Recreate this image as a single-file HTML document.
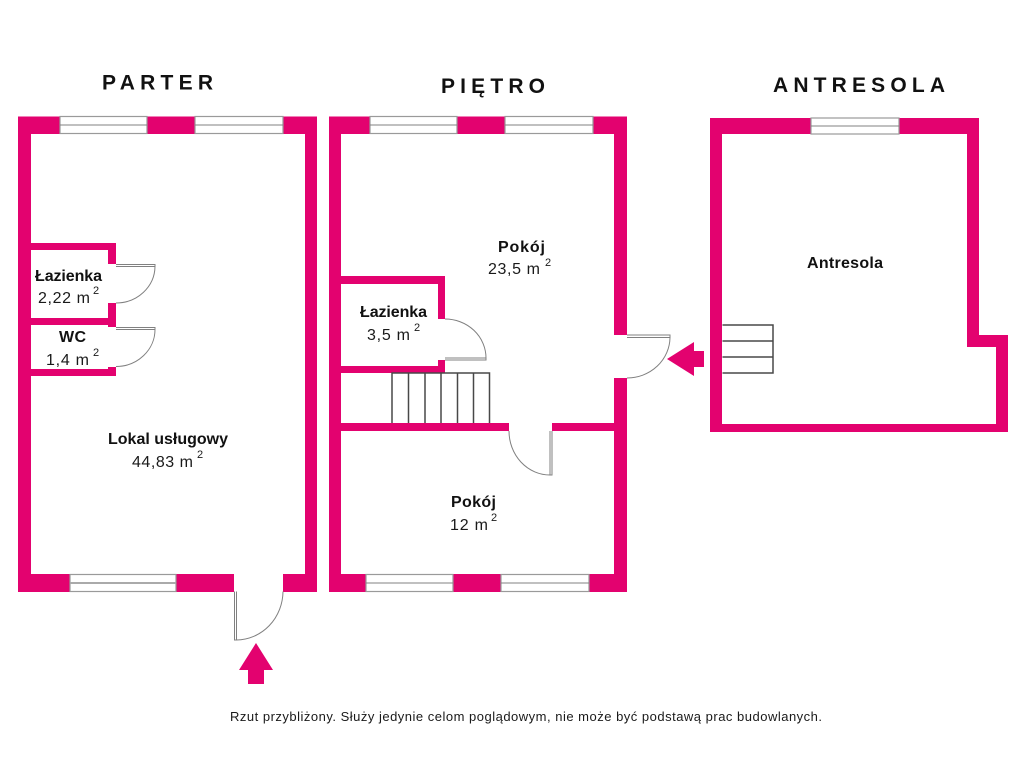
<!DOCTYPE html>
<html lang="pl">
<head>
<meta charset="utf-8">
<title>Rzut</title>
<style>
html,body{margin:0;padding:0;background:#fff;width:1024px;height:768px;overflow:hidden}
svg{display:block}
text{font-family:"Liberation Sans",sans-serif;fill:#1a1a1a}
.h{font-size:21px;font-weight:bold;fill:#111}
.b{font-size:16px;font-weight:bold;fill:#111}
.n{font-size:16px}
.s{font-size:11px}
.w{fill:#e3026f}
.win{fill:#fff;stroke:#9a9a9a;stroke-width:1.2}
.l{fill:none;stroke:#808080;stroke-width:1}
.st{fill:none;stroke:#484848;stroke-width:1.5}
</style>
</head>
<body>
<svg width="1024" height="768" viewBox="0 0 1024 768" xmlns="http://www.w3.org/2000/svg">
<rect width="1024" height="768" fill="#fff"/>

<!-- Titles -->
<text class="h" x="102" y="89.500" textLength="111">PARTER</text>
<text class="h" x="441" y="93" textLength="104">PIĘTRO</text>
<text class="h" x="773" y="92" textLength="172">ANTRESOLA</text>

<!-- PARTER walls -->
<path class="w" fill-rule="evenodd" d="M18 116.500H317V592H18ZM31 134V574H305V134Z"/>
<rect class="w" x="31" y="243" width="85" height="7"/>
<rect class="w" x="108" y="243" width="8" height="21"/>
<rect class="w" x="108" y="303" width="8" height="24"/>
<rect class="w" x="31" y="318" width="85" height="7"/>
<rect class="w" x="108" y="367" width="8" height="9"/>
<rect class="w" x="31" y="369" width="85" height="7"/>
<!-- windows -->
<g>
<rect class="win" x="60" y="116.500" width="87" height="17"/><path class="l" d="M60 125H147"/>
<rect class="win" x="195" y="116.500" width="88" height="17"/><path class="l" d="M195 125H283"/>
<rect class="win" x="70" y="574.500" width="106" height="17"/><path class="l" d="M70 583H176" style="stroke:#aaa;stroke-width:2"/>
</g>
<!-- entry door -->
<rect x="234" y="574" width="49" height="18" fill="#fff"/>
<path class="l" d="M234.500 591.500V640H236.500V591.500M236.500 640A47 49 0 0 0 283 591.500"/>
<!-- bathroom doors -->
<rect x="108" y="264" width="8" height="39" fill="#fff"/>
<rect x="108" y="327" width="8" height="40" fill="#fff"/>
<path class="l" d="M116 264.500H155V266.500H116M155 266.500A39 37 0 0 1 116 303"/>
<path class="l" d="M116 327.500H155V329.500H116M155 329.500A39 37 0 0 1 116 366.500"/>

<!-- PIETRO walls -->
<path class="w" fill-rule="evenodd" d="M329 116.500H627V592H329ZM341 134V574H614V134Z"/>
<rect class="w" x="341" y="276" width="104" height="8"/>
<rect class="w" x="438" y="276" width="7" height="43"/>
<rect class="w" x="438" y="360" width="7" height="13"/>
<rect class="w" x="341" y="366" width="104" height="7"/>
<rect class="w" x="341" y="423" width="168" height="8"/>
<rect class="w" x="552" y="423" width="62" height="8"/>
<g>
<rect class="win" x="370" y="116.500" width="87" height="17"/><path class="l" d="M370 125H457"/>
<rect class="win" x="505" y="116.500" width="88" height="17"/><path class="l" d="M505 125H593"/>
<rect class="win" x="366" y="574.500" width="87" height="17"/><path class="l" d="M366 583H453"/>
<rect class="win" x="501" y="574.500" width="88" height="17"/><path class="l" d="M501 583H589"/>
</g>
<!-- stairs -->
<path class="st" d="M392 423V373H489.500V423M408.500 373V423M425 373V423M441 373V423M457.500 373V423M473.500 373V423"/>
<!-- doors -->
<rect x="438" y="319" width="7" height="41" fill="#fff"/>
<path class="l" d="M445 358H486V360H445M486 358A41 39 0 0 0 445 319"/>
<path class="l" d="M552 431V475H550V431M550 475A41 44 0 0 1 509 431"/>
<rect x="614" y="335" width="13" height="43" fill="#fff"/>
<path class="l" d="M627 335H670V337.500H627M670 337.500A43 41 0 0 1 627 378"/>

<!-- arrows -->
<polygon class="w" points="667,359 694,342 694,351 704,351 704,367 694,367 694,376"/>
<polygon class="w" points="256,643 273,670 264,670 264,684 248,684 248,670 239,670"/>

<!-- ANTRESOLA -->
<path class="w" fill-rule="evenodd" d="M710 118H979V335H1008V432H710ZM722 134V424H996V347H967V134Z"/>
<rect class="win" x="811" y="118" width="88" height="16"/><path class="l" d="M811 126H899"/>
<path class="st" d="M722.500 325H773V373H722.500M722.500 341H773M722.500 357H773"/>

<!-- Labels -->
<text class="b" x="35" y="281" textLength="67">Łazienka</text>
<text class="n" x="38" y="303" textLength="52">2,22 m</text><text class="s" x="93" y="294">2</text>
<text class="b" x="59" y="342" textLength="27">WC</text>
<text class="n" x="46" y="365" textLength="43">1,4 m</text><text class="s" x="93" y="356">2</text>
<text class="b" x="108" y="444" textLength="120">Lokal usługowy</text>
<text class="n" x="132" y="467" textLength="61">44,83 m</text><text class="s" x="197" y="458">2</text>

<text class="b" x="498" y="252" textLength="47">Pokój</text>
<text class="n" x="488" y="274" textLength="52">23,5 m</text><text class="s" x="545" y="266">2</text>
<text class="b" x="360" y="317" textLength="67">Łazienka</text>
<text class="n" x="367" y="340" textLength="43">3,5 m</text><text class="s" x="414" y="331">2</text>
<text class="b" x="451" y="507" textLength="45">Pokój</text>
<text class="n" x="450" y="530" textLength="38">12 m</text><text class="s" x="491" y="521">2</text>
<text class="b" x="807" y="268" textLength="76">Antresola</text>

<text x="230" y="721" style="font-size:13px" textLength="592">Rzut przybliżony. Służy jedynie celom poglądowym, nie może być podstawą prac budowlanych.</text>
</svg>
</body>
</html>
